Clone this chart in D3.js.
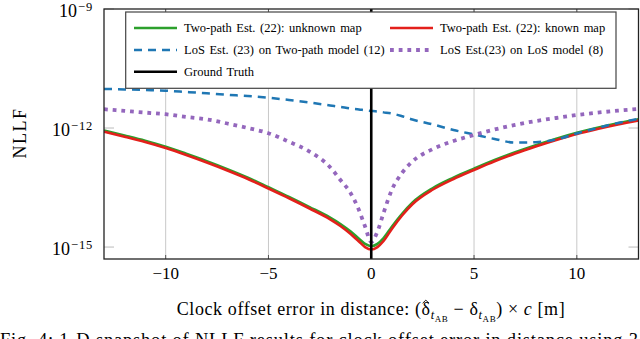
<!DOCTYPE html>
<html>
<head>
<meta charset="utf-8">
<script src="https://cdn.jsdelivr.net/npm/d3@7"></script>
<style>
  body { margin: 0; background: #fff; }
  svg { display: block; }
  text { font-family: "Liberation Serif", "Times New Roman", serif; fill: #000; }
</style>
</head>
<body>
<div class="canvas"></div>
<script>
// clock offset error in distance [m]
const offsets = [-13, -12, -11, -10, -9, -8, -7, -6, -5, -4, -3, -2, -1.5, -1, -0.6, -0.3,
  0, 0.3, 0.6, 1, 1.5, 2, 3, 4, 5, 6, 7, 8, 9, 10, 11, 12, 13];

// NLLF values
const twoPathUnknown = [8.7e-13, 6.5e-13, 4.8e-13, 3.4e-13, 2.25e-13, 1.46e-13, 9.2e-14, 5.6e-14, 3.22e-14,
  1.84e-14, 1.02e-14, 5.5e-15, 3.8e-15, 2.45e-15, 1.62e-15, 1.2e-15,
  1.05e-15, 1.2e-15, 1.68e-15, 3.25e-15, 6.9e-15, 1.31e-14, 3.06e-14, 5.6e-14, 9.45e-14, 1.56e-13,
  2.45e-13, 3.7e-13, 5.4e-13, 7.6e-13, 1.02e-12, 1.32e-12, 1.66e-12];
const twoPathKnown = [8.09e-13, 6.05e-13, 4.45e-13, 3.14e-13, 2.09e-13, 1.35e-13, 8.51e-14, 5.2e-14, 2.99e-14,
  1.7e-14, 9.38e-15, 5.01e-15, 3.4e-15, 2.13e-15, 1.38e-15, 1.0e-15,
  8.69e-16, 1.0e-15, 1.42e-15, 2.86e-15, 6.25e-15, 1.2e-14, 2.82e-14, 5.2e-14, 8.77e-14, 1.45e-13,
  2.28e-13, 3.43e-13, 5.0e-13, 7.08e-13, 9.46e-13, 1.23e-12, 1.55e-12];
const losOnTwoPath = [9.66e-12, 9.4e-12, 9.1e-12, 8.75e-12, 8.1e-12, 7.5e-12, 6.9e-12, 6.4e-12, 5.8e-12,
  5.1e-12, 4.4e-12, 3.7e-12, 3.4e-12, 3.1e-12, 2.95e-12, 2.8e-12,
  2.7e-12, 2.6e-12, 2.48e-12, 2.32e-12, 1.98e-12, 1.64e-12, 1.23e-12, 8.93e-13, 6.88e-13, 5.3e-13,
  4.3e-13, 4.4e-13, 5.14e-13, 7.28e-13, 1.0e-12, 1.34e-12, 1.69e-12];
const losOnLos = [2.98e-12, 2.7e-12, 2.45e-12, 2.23e-12, 1.9e-12, 1.65e-12, 1.3e-12, 1.0e-12, 7.4e-13,
  4.5e-13, 2.55e-13, 1.03e-13, 4.9e-14, 2.28e-14, 8.6e-15, 3.3e-15,
  1.35e-15, 2.45e-15, 7.3e-15, 2.76e-14, 7.4e-14, 1.43e-13, 2.96e-13, 4.71e-13, 6.68e-13, 9.19e-13,
  1.2e-12, 1.5e-12, 1.79e-12, 2.13e-12, 2.44e-12, 2.74e-12, 3.02e-12];

const groundTruth = 0;
const xTicks = [-10, -5, 0, 5, 10];
const yTicks = [1e-15, 1e-12, 1e-9];

const seriesNames = [
  "Two-path Est. (22): unknown map",
  "Two-path Est. (22): known map",
  "LoS Est. (23) on Two-path model (12)",
  "LoS Est.(23) on LoS model (8)",
  "Ground Truth"
];

const width = 640, height = 339;
const plot = { left: 104, right: 638.5, top: 9, bottom: 259 };

const svg = d3.select('.canvas')
  .append('svg')
  .attr('width', width)
  .attr('height', height);

const x = d3.scaleLinear().domain([-13, 13]).range([plot.left, plot.right]);
const y = d3.scaleLog().domain([5e-16, 1e-9]).range([plot.bottom, plot.top]);

svg.append('clipPath').attr('id', 'clip')
  .append('rect')
  .attr('x', plot.left).attr('y', plot.top)
  .attr('width', plot.right - plot.left).attr('height', plot.bottom - plot.top);

// vertical grid
svg.append('g')
  .selectAll('line')
  .data(xTicks)
  .enter().append('line')
    .attr('x1', d => x(d)).attr('x2', d => x(d))
    .attr('y1', plot.top).attr('y2', plot.bottom)
    .attr('stroke', '#c8c8c8')
    .attr('stroke-width', 1);

// small y ticks on both sides
const yt = svg.append('g');
yTicks.forEach(t => {
  yt.append('line')
    .attr('x1', plot.left).attr('x2', plot.left + 10)
    .attr('y1', y(t)).attr('y2', y(t))
    .attr('stroke', '#bbb');
  yt.append('line')
    .attr('x1', plot.right - 10).attr('x2', plot.right)
    .attr('y1', y(t)).attr('y2', y(t))
    .attr('stroke', '#bbb');
});

// x ticks top & bottom
xTicks.forEach(t => {
  svg.append('line')
    .attr('x1', x(t)).attr('x2', x(t))
    .attr('y1', plot.bottom).attr('y2', plot.bottom - 4)
    .attr('stroke', '#555');
  svg.append('line')
    .attr('x1', x(t)).attr('x2', x(t))
    .attr('y1', plot.top).attr('y2', plot.top + 4)
    .attr('stroke', '#555');
});

const line = data => d3.line()
  .x((d, i) => x(offsets[i]))
  .y(d => y(d))
  .curve(d3.curveMonotoneX)(data);

const curves = svg.append('g').attr('clip-path', 'url(#clip)');

const styles = [
  { data: twoPathUnknown, color: '#2ca02c', w: 2.6, dash: null },
  { data: twoPathKnown, color: '#e3201b', w: 2.6, dash: null },
  { data: losOnTwoPath, color: '#1f77b4', w: 2.5, dash: '8,6' },
  { data: losOnLos, color: '#9467bd', w: 3.8, dash: '3.8,4.9' }
];

styles.forEach(s => {
  curves.append('path')
    .attr('d', line(s.data))
    .attr('fill', 'none')
    .attr('stroke', s.color)
    .attr('stroke-width', s.w)
    .attr('stroke-dasharray', s.dash);
});

// ground truth
curves.append('line')
  .attr('x1', x(groundTruth)).attr('x2', x(groundTruth))
  .attr('y1', plot.top).attr('y2', plot.bottom)
  .attr('stroke', '#000')
  .attr('stroke-width', 2.6);

// legend
const legend = svg.append('g');
legend.append('rect')
  .attr('x', 125.7).attr('y', 12)
  .attr('width', 490.3).attr('height', 76.3)
  .attr('fill', '#fff')
  .attr('stroke', '#444')
  .attr('stroke-width', 1.2);

const legendItems = [
  { name: seriesNames[0], color: '#2ca02c', w: 2.6, dash: null, col: 0, row: 0 },
  { name: seriesNames[1], color: '#e3201b', w: 2.6, dash: null, col: 1, row: 0 },
  { name: seriesNames[2], color: '#1f77b4', w: 2.5, dash: '8,6', col: 0, row: 1 },
  { name: seriesNames[3], color: '#9467bd', w: 3.8, dash: '3.8,4.9', col: 1, row: 1 },
  { name: seriesNames[4], color: '#000', w: 2.6, dash: null, col: 0, row: 2 }
];
const colX = [134, 390];
const rowY = [28, 50, 71.7];

const li = legend.selectAll('.legend')
  .data(legendItems)
  .enter().append('g')
  .attr('class', 'legend')
  .attr('transform', d => `translate(${colX[d.col]}, ${rowY[d.row]})`);

li.append('line')
  .attr('x1', 0).attr('x2', 43)
  .attr('stroke', d => d.color)
  .attr('stroke-width', d => d.w)
  .attr('stroke-dasharray', d => d.dash);

li.append('text')
  .attr('x', 50)
  .attr('y', 4.3)
  .style('font-size', '12.5px')
  .style('word-spacing', '1.5px')
  .text(d => d.name);

// frame
svg.append('rect')
  .attr('x', plot.left).attr('y', plot.top)
  .attr('width', plot.right - plot.left).attr('height', plot.bottom - plot.top)
  .attr('fill', 'none')
  .attr('stroke', '#222')
  .attr('stroke-width', 1.3);

// x tick labels
svg.append('g')
  .selectAll('text')
  .data(xTicks)
  .enter().append('text')
    .attr('x', d => x(d))
    .attr('y', 279)
    .attr('text-anchor', 'middle')
    .style('font-size', '17px')
    .text(d => d < 0 ? '\u2212' + Math.abs(d) : d);

// y tick labels 10^n
yTicks.forEach(t => {
  const e = Math.round(Math.log10(t));
  const tx = svg.append('text')
    .attr('x', 93)
    .attr('y', y(t) + 8)
    .attr('text-anchor', 'end')
    .style('font-size', '18px');
  tx.append('tspan').text('10');
  tx.append('tspan')
    .attr('dy', -6)
    .attr('dx', 1)
    .style('font-size', '12.5px')
    .style('letter-spacing', '0.8px')
    .text('\u2212' + Math.abs(e));
});

// axis labels
svg.append('text')
  .attr('transform', 'translate(26, 133) rotate(-90)')
  .attr('text-anchor', 'middle')
  .style('font-size', '18px')
  .style('letter-spacing', '1.5px')
  .text('NLLF');

const xl = svg.append('text')
  .attr('x', 371)
  .attr('y', 315)
  .attr('text-anchor', 'middle')
  .style('font-size', '18px')
  .style('letter-spacing', '0.6px');
xl.append('tspan').text('Clock offset error in distance: (\u03B4');
xl.append('tspan').attr('dy', 4).style('font-size', '12.5px').style('font-style', 'italic').text('t');
xl.append('tspan').attr('dy', 2.5).style('font-size', '9px').text('AB');
xl.append('tspan').attr('dy', -6.5).text(' \u2212 \u03B4');
xl.append('tspan').attr('dy', 4).style('font-size', '12.5px').style('font-style', 'italic').text('t');
xl.append('tspan').attr('dy', 2.5).style('font-size', '9px').text('AB');
xl.append('tspan').attr('dy', -6.5).text(') \u00D7 ');
xl.append('tspan').style('font-style', 'italic').text('c');
xl.append('tspan').text(' [m]');

// hat over the first delta, drawn as a small stroke
const dIdx = xl.node().textContent.indexOf('\u03B4');
const ext = xl.node().getExtentOfChar(dIdx);
const hx = ext.x + ext.width / 2 - 0.3;
const hy = ext.y + 2;
svg.append('path')
  .attr('d', `M${hx - 3.2},${hy + 2.2} L${hx},${hy - 0.8} L${hx + 3.2},${hy + 2.2}`)
  .attr('fill', 'none')
  .attr('stroke', '#000')
  .attr('stroke-width', 0.9);

// caption, cut off by the image edge
svg.append('text')
  .attr('x', 0)
  .attr('y', 346)
  .style('font-size', '18.5px')
  .style('letter-spacing', '0.8px')
  .text('Fig. 4: 1-D snapshot of NLLF results for clock offset error in distance using 3');
</script>
</body>
</html>
